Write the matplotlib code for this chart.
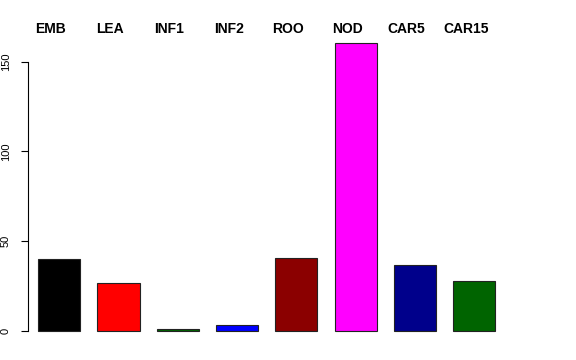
import matplotlib
matplotlib.use("Agg")
import matplotlib.pyplot as plt

plt.rcParams['font.family'] = ['Liberation Sans', 'DejaVu Sans']

# datos
etiquetas = ['EMB', 'LEA', 'INF1', 'INF2', 'ROO', 'NOD', 'CAR5', 'CAR15']
valores = [39.8, 26.6, 1.0, 3.4, 40.7, 160.5, 36.5, 27.5]
colores = ['black', 'red', '#006400', 'blue', '#8B0000', 'magenta', '#00008B', '#006400']

W, H = 576, 360
fig = plt.figure(figsize=(W / 100, H / 100), dpi=100)

# ejes en pixeles: eje y en x=28, cero en y=330.7, 1.794 px por unidad
paso = 59.3
x0 = 59.2
izq, der = 28, 560
y_cero, escala = 330.7, 1.794
ymin, ymax = -6.5, 167.5
ax = fig.add_axes([izq / W, (H - (y_cero - ymin * escala)) / H,
                   (der - izq) / W, (ymax - ymin) * escala / H])
ax.set_xlim((izq - x0) / paso, (der - x0) / paso)
ax.set_ylim(ymin, ymax)

pos = list(range(len(valores)))
ax.bar(pos, valores, width=0.71, color=colores, edgecolor='#222222', linewidth=0.8)

for s in ['top', 'right', 'bottom']:
    ax.spines[s].set_visible(False)
ax.spines['left'].set_bounds(0, 150)
ax.spines['left'].set_linewidth(0.8)
ax.set_xticks([])
ax.set_yticks([0, 50, 100, 150])
ax.tick_params(axis='y', length=5.2, width=0.8, pad=7, labelsize=8)
for t in ax.get_yticklabels():
    t.set_rotation(90)
    t.set_va('center')

# etiquetas arriba, un poco a la izquierda del centro de cada barra
for p, e in zip(pos, etiquetas):
    fig.text((x0 + p * paso - 8.5) / W, (H - 29) / H, e, ha='center', va='center',
             fontsize=10, fontweight='bold')

fig.savefig('out.png', dpi=100)
